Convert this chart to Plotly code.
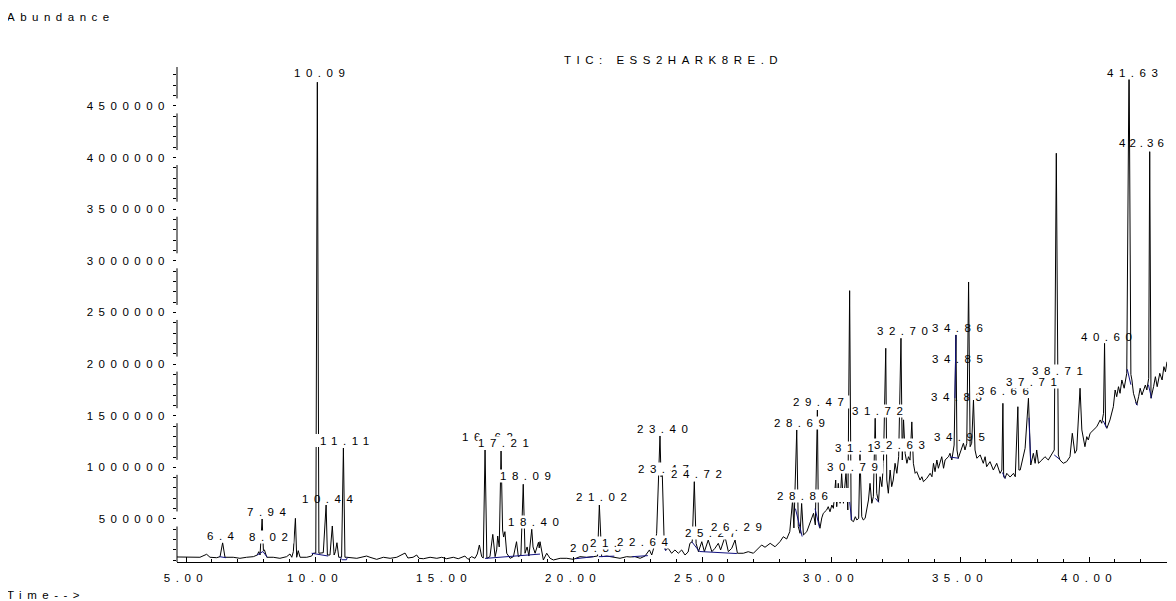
import plotly.graph_objects as go

# ---------------- data ----------------
# Total ion chromatogram: retention time (min) and abundance
rt = [4.65, 5.16, 5.54, 5.80, 5.93, 6.19, 6.32, 6.42, 6.51, 6.83, 7.09, 7.35, 7.61, 7.76, 7.82, 7.87, 7.95, 8.00, 8.04, 8.13,
      8.38, 8.64, 8.90, 9.03, 9.10, 9.16, 9.24, 9.29, 9.35, 9.42, 9.68, 9.87, 9.93, 10.03, 10.09, 10.15, 10.23, 10.32, 10.43, 10.48,
      10.58, 10.67, 10.74, 10.79, 10.85, 10.92, 11.03, 11.10, 11.16, 11.23, 11.62, 12.00, 12.13, 12.39, 12.65, 12.91, 13.17, 13.33, 13.49, 13.60,
      13.80, 13.94, 14.03, 14.20, 14.46, 14.72, 14.91, 15.10, 15.36, 15.55, 15.81, 15.93, 16.07, 16.20, 16.29, 16.37, 16.46, 16.52, 16.59, 16.66,
      16.78, 16.89, 16.98, 17.04, 17.08, 17.14, 17.21, 17.27, 17.31, 17.36, 17.43, 17.56, 17.69, 17.81, 17.88, 17.98, 18.07, 18.14, 18.22, 18.29,
      18.40, 18.45, 18.53, 18.66, 18.69, 18.72, 18.79, 18.85, 18.98, 19.11, 19.24, 19.50, 19.76, 20.01, 20.27, 20.53, 20.79, 20.95, 21.02, 21.11,
      21.31, 21.56, 21.82, 22.08, 22.21, 22.40, 22.60, 22.79, 22.96, 23.05, 23.18, 23.24, 23.31, 23.37, 23.41, 23.46, 23.53, 23.57, 23.69, 23.82,
      23.95, 24.08, 24.21, 24.34, 24.46, 24.53, 24.62, 24.70, 24.77, 24.86, 24.99, 25.09, 25.24, 25.38, 25.50, 25.63, 25.72, 25.89, 26.02, 26.15,
      26.28, 26.37, 26.60, 26.79, 26.99, 27.18, 27.31, 27.44, 27.64, 27.83, 28.02, 28.15, 28.28, 28.40, 28.51, 28.56, 28.67, 28.73, 28.80, 28.86,
      28.93, 29.06, 29.19, 29.32, 29.39, 29.47, 29.51, 29.57, 29.64, 29.70, 29.83, 29.89, 29.96, 30.03, 30.09, 30.18, 30.22, 30.28, 30.35, 30.41,
      30.48, 30.58, 30.65, 30.72, 30.78, 30.87, 30.94, 31.00, 31.07, 31.12, 31.19, 31.25, 31.32, 31.38, 31.45, 31.51, 31.58, 31.64, 31.71, 31.77,
      31.84, 31.90, 31.97, 32.03, 32.12, 32.16, 32.22, 32.29, 32.35, 32.41, 32.48, 32.55, 32.62, 32.71, 32.76, 32.81, 32.87, 32.94, 33.00, 33.06,
      33.13, 33.19, 33.26, 33.32, 33.45, 33.52, 33.58, 33.71, 33.84, 33.91, 33.97, 34.03, 34.10, 34.16, 34.29, 34.36, 34.42, 34.55, 34.61, 34.68,
      34.77, 34.84, 34.88, 34.93, 35.00, 35.13, 35.19, 35.26, 35.33, 35.39, 35.45, 35.52, 35.58, 35.65, 35.78, 35.90, 35.97, 36.03, 36.16, 36.29,
      36.42, 36.55, 36.62, 36.66, 36.69, 36.74, 36.81, 36.94, 37.07, 37.14, 37.24, 37.28, 37.33, 37.39, 37.52, 37.65, 37.74, 37.84, 37.91, 37.97,
      38.04, 38.17, 38.29, 38.42, 38.55, 38.65, 38.73, 38.81, 38.87, 39.00, 39.13, 39.26, 39.35, 39.45, 39.52, 39.65, 39.72, 39.84, 39.91, 39.97,
      40.04, 40.17, 40.30, 40.43, 40.49, 40.56, 40.60, 40.64, 40.69, 40.81, 40.94, 41.01, 41.07, 41.14, 41.20, 41.27, 41.36, 41.46, 41.55, 41.62,
      41.66, 41.72, 41.79, 41.85, 41.92, 41.98, 42.05, 42.11, 42.18, 42.24, 42.31, 42.35, 42.40, 42.50, 42.57, 42.64, 42.74, 42.83, 42.90, 42.96,
      43.02]
abundance = [132000, 129000, 129000, 158000, 129000, 125000, 135000, 270000, 129000, 129000, 119000, 129000, 135000, 151000, 183000, 151000, 500000, 193000, 200000, 129000,
             129000, 119000, 135000, 161000, 129000, 183000, 506000, 129000, 193000, 129000, 129000, 141000, 168000, 170000, 4730000, 168000, 168000, 173000, 635000, 151000,
             151000, 432000, 151000, 183000, 270000, 129000, 129000, 1187000, 129000, 129000, 119000, 141000, 129000, 109000, 129000, 119000, 129000, 151000, 170000, 122000,
             129000, 151000, 119000, 115000, 129000, 119000, 129000, 115000, 129000, 115000, 141000, 109000, 135000, 119000, 161000, 248000, 135000, 122000, 1168000, 119000,
             135000, 351000, 135000, 200000, 335000, 229000, 1158000, 393000, 325000, 377000, 168000, 119000, 135000, 280000, 135000, 151000, 836000, 168000, 229000, 141000,
             400000, 229000, 168000, 274000, 219000, 280000, 168000, 103000, 168000, 119000, 103000, 119000, 119000, 109000, 135000, 129000, 135000, 141000, 635000, 135000,
             141000, 129000, 119000, 135000, 132000, 135000, 119000, 141000, 200000, 151000, 264000, 361000, 909000, 1304000, 909000, 926000, 296000, 200000, 216000, 168000,
             200000, 168000, 200000, 151000, 180000, 264000, 280000, 861000, 264000, 183000, 280000, 183000, 296000, 183000, 216000, 264000, 200000, 328000, 183000, 216000,
             296000, 168000, 168000, 183000, 168000, 216000, 248000, 226000, 264000, 231000, 280000, 328000, 306000, 377000, 684000, 413000, 1362000, 425000, 361000, 650000,
             345000, 377000, 458000, 555000, 442000, 1555000, 490000, 410000, 510000, 555000, 587000, 619000, 570000, 635000, 603000, 877000, 619000, 845000, 652000, 942000,
             652000, 958000, 587000, 2711000, 490000, 474000, 522000, 490000, 506000, 1136000, 522000, 490000, 506000, 603000, 684000, 845000, 652000, 716000, 1475000, 749000,
             667000, 909000, 813000, 1039000, 2153000, 877000, 749000, 974000, 813000, 877000, 1039000, 942000, 1103000, 2250000, 1071000, 1460000, 1136000, 1039000, 1103000, 1070000,
             1440000, 1039000, 942000, 958000, 877000, 909000, 861000, 893000, 942000, 909000, 1039000, 958000, 1071000, 991000, 1103000, 991000, 1071000, 1103000, 1136000, 1071000,
             1216000, 2282000, 1168000, 1088000, 1136000, 1233000, 1168000, 1233000, 2795000, 1200000, 1233000, 1652000, 1168000, 1088000, 1120000, 1039000, 1103000, 1006000, 1055000, 974000,
             1039000, 942000, 974000, 1620000, 909000, 893000, 942000, 906000, 942000, 909000, 1587000, 974000, 974000, 1039000, 1184000, 1669000, 1023000, 1136000, 1039000, 1168000,
             1039000, 1071000, 1103000, 1071000, 1120000, 1168000, 4042000, 1120000, 1071000, 1039000, 1055000, 1103000, 1330000, 1136000, 1168000, 1766000, 1362000, 1200000, 1297000, 1265000,
             1330000, 1362000, 1394000, 1459000, 1427000, 1523000, 2201000, 1410000, 1378000, 1459000, 1587000, 1749000, 1684000, 1781000, 1717000, 1846000, 1766000, 1911000, 5000000, 1900000,
             1846000, 1717000, 1652000, 1604000, 1684000, 1766000, 1701000, 1749000, 1797000, 1749000, 1862000, 4057000, 1669000, 1781000, 1878000, 1781000, 1911000, 1846000, 1975000, 1926000,
             2023000]

# Integration baselines / peak marks (blue), None separates segments
blue_rt = [6.30, 6.55, None, 7.75, 7.98, 8.15, None, 9.87, 10.51, None, 10.96, 11.05, 11.22, 11.25, None,
           16.59, 18.72, None, 20.10, 20.80, None, 21.00, 21.60, None, 22.30, 22.90, None, 23.45, 23.60, None,
           24.60, 24.90, 26.35, None, 28.62, 28.88, None, 29.38, 29.55, None, 30.66, 30.80, None, 31.72, 31.85, None,
           34.80, 34.84, None, 34.60, 34.95, None, 36.64, 36.75, None, 37.67, 37.735, None, 38.65, 38.85, None,
           40.55, 40.68, None, 41.48, 41.62, None, 41.80, 41.87, None, 42.30, 42.42]
blue_abundance = [135000, 125000, None, 150000, 185000, 130000, None, 168000, 141000, None, 130000, 105000, 105000, 128000, None,
                  118000, 160000, None, 115000, 135000, None, 135000, 140000, None, 135000, 145000, None, 300000, 190000, None,
                  280000, 185000, 165000, None, 600000, 330000, None, 600000, 420000, None, 800000, 490000, None, 700000, 660000, None,
                  1670000, 2282000, None, 1100000, 1088000, None, 950000, 893000, None, 1480000, 1050000, None, 1120000, 1080000, None,
                  1450000, 1380000, None, 1950000, 1800000, None, 1630000, 1600000, None, 1800000, 1670000]

# Peak labels (retention times as printed)
peak_labels = ["6.4", "7.94", "8.02", "10.09", "10.44", "11.11", "16.62", "17.21", "18.09", "18.40",
               "20.83", "21.02", "21.63", "22.64", "23.40", "23.47", "24.72", "25.27", "26.29", "28.69",
               "28.86", "29.47", "30.79", "31.13", "31.72", "32.63", "32.70", "34.83", "34.85", "34.86",
               "34.95", "36.66", "37.71", "38.71", "40.60", "41.63", "42.36"]

x_tick_values = [5, 10, 15, 20, 25, 30, 35, 40]
x_tick_labels = ["5.00", "10.00", "15.00", "20.00", "25.00", "30.00", "35.00", "40.00"]
y_tick_values = [500000, 1000000, 1500000, 2000000, 2500000, 3000000, 3500000, 4000000, 4500000]
y_tick_labels = ["500000", "1000000", "1500000", "2000000", "2500000", "3000000", "3500000", "4000000", "4500000"]

title_text = "TIC: ESS2HARK8RE.D"
y_title = "Abundance"
x_title = "Time-->"

# ---------------- layout settings ----------------
OFF = 8                     # default body margin of the html page
W, H = 1176 - OFF, 601 - OFF
PL, PT, PR, PB = 177, 67, 1167, 562    # plot area in page pixels
L, T = PL - OFF, PT - OFF
R, B = W - (PR - OFF), H - (PB - OFF)
X_RANGE = [4.651, 43.02]
Y_RANGE = [83300, 4877000]
PW, PH = PR - PL, PB - PT
FONT = "Liberation Sans, Arial, sans-serif"
FS = 11.5
LS = 5.5
INK = "#000000"

def spaced(s, ls=LS):
    return '<span style="letter-spacing:%spx">%s</span>' % (ls, s)

def px_to_x(px):
    return X_RANGE[0] + (px - PL) / PW * (X_RANGE[1] - X_RANGE[0])

def py_to_y(py):
    return Y_RANGE[0] + (PB - py) / PH * (Y_RANGE[1] - Y_RANGE[0])

def px_paper(px):
    return (px - PL) / PW

def py_paper(py):
    return (PB - py) / PH

def x_paper(x):
    return (x - X_RANGE[0]) / (X_RANGE[1] - X_RANGE[0])

def y_paper(y):
    return (y - Y_RANGE[0]) / (Y_RANGE[1] - Y_RANGE[0])

yunit = (Y_RANGE[1] - Y_RANGE[0]) / PH  # abundance per pixel

# label anchor positions (minutes, abundance) and whether the label box is opaque
label_x = [6.34, 8.12, 8.18, 10.17, 10.47, 11.16, 16.67, 17.29, 18.14, 18.45,
           20.85, 21.09, 21.63, 22.67, 23.45, 23.49, 24.77, 25.31, 26.32, 28.76,
           28.88, 29.50, 30.83, 31.12, 31.78, 32.64, 32.74, 34.84, 34.88, 34.88,
           34.96, 36.69, 37.75, 38.76, 40.66, 41.69, 42.40]
label_y = [335000, 570000, 325000, 4820000, 693000, 1258000, 1291000, 1239000, 916000, 474000,
           219000, 716000, 267000, 277000, 1371000, 984000, 933000, 364000, 425000, 1432000,
           725000, 1636000, 1006000, 1184000, 1546000, 1216000, 2323000, 1684000, 2049000, 2350000,
           1297000, 1739000, 1830000, 1933000, 2265000, 4816000, 4138000]
label_opaque = [True, True, True, True, False, True, True, True, True, True,
                True, True, True, True, True, True, True, True, True, True,
                True, True, True, True, True, True, True, False, False, False,
                False, True, True, True, False, True, False]

fig = go.Figure()
fig.add_trace(go.Scatter(x=rt, y=abundance, mode="lines",
                         line=dict(color="#000000", width=1), hoverinfo="skip"))
fig.add_trace(go.Scatter(x=blue_rt, y=blue_abundance, mode="lines", connectgaps=False,
                         line=dict(color="#10107f", width=1), hoverinfo="skip"))

font = dict(family=FONT, size=FS, color=INK)
annotations = []
n_labels = len(peak_labels)
for i, (txt, lx, ly, op) in enumerate(zip(peak_labels, label_x, label_y, label_opaque)):
    ann = dict(x=x_paper(lx), y=y_paper(ly), xref="paper", yref="paper", text=spaced(txt),
               showarrow=False, xanchor="center", yanchor="middle", xshift=LS / 2, borderpad=0,
               bgcolor="#ffffff" if op else "rgba(0,0,0,0)", font=font)
    if i == n_labels - 1:
        # last label sits against the right edge: anchor it by its right side so it stays visible
        ann.update(x=px_paper(1169), xanchor="right", xshift=0, text=spaced(txt, 4))
    annotations.append(ann)

annotations.append(dict(x=px_paper(673), y=py_paper(60), xref="paper", yref="paper",
                        text=spaced(title_text), showarrow=False, xanchor="center", yanchor="middle", font=font))
annotations.append(dict(x=px_paper(5), y=py_paper(17.5), xref="paper", yref="paper",
                        text=spaced(y_title), showarrow=False, xanchor="left", yanchor="middle", font=font))
annotations.append(dict(x=px_paper(5), y=py_paper(595), xref="paper", yref="paper",
                        text=spaced(x_title), showarrow=False, xanchor="left", yanchor="middle", font=font))

# y axis line drawn in segments, broken at each tick label
shapes = []
gap = 7.5 * yunit
edges = [Y_RANGE[0]]
for v in y_tick_values:
    edges += [v - gap, v + gap]
edges.append(Y_RANGE[1])
for a, b in zip(edges[0::2], edges[1::2]):
    shapes.append(dict(type="line", xref="paper", yref="y", x0=0, x1=0, y0=a, y1=b,
                       line=dict(color=INK, width=1)))

# extra white areas of label boxes that hide parts of the trace
extra_boxes = [(314, 322, 434, 447), (826, 850, 488, 502)]
for x0, x1, y0, y1 in extra_boxes:
    shapes.append(dict(type="rect", xref="x", yref="y", x0=px_to_x(x0), x1=px_to_x(x1),
                       y0=py_to_y(y1), y1=py_to_y(y0), fillcolor="#ffffff", line=dict(width=0),
                       layer="above"))

fig.update_layout(
    width=W, height=H, margin=dict(l=L, r=R, t=T, b=B, pad=0, autoexpand=False),
    paper_bgcolor="#ffffff", plot_bgcolor="#ffffff", showlegend=False,
    font=font, annotations=annotations, shapes=shapes,
    xaxis=dict(range=X_RANGE, automargin=False, showline=True, linecolor=INK, linewidth=1, mirror=False,
               showgrid=False, zeroline=False, tickmode="array", tickvals=x_tick_values,
               ticktext=[spaced(t) for t in x_tick_labels], ticks="inside", ticklen=5,
               tickcolor=INK, tickwidth=1, tickfont=font, ticklabelstandoff=5,
               minor=dict(dtick=1, tick0=0, ticks="inside", ticklen=3, tickcolor=INK, showgrid=False)),
    yaxis=dict(range=Y_RANGE, automargin=False, showline=False, showgrid=False, zeroline=False, tickmode="array",
               tickvals=y_tick_values, ticktext=[spaced(t) for t in y_tick_labels], ticks="",
               tickfont=font, ticklabelstandoff=6,
               minor=dict(dtick=100000, tick0=0, ticks="outside", ticklen=3, tickcolor=INK, showgrid=False)),
)

# keep the page free of scrollbars (the figure fills the window)
fig.write_html("out.html", post_script="document.documentElement.style.overflow='hidden';"
                                       "document.body.style.overflow='hidden';")
